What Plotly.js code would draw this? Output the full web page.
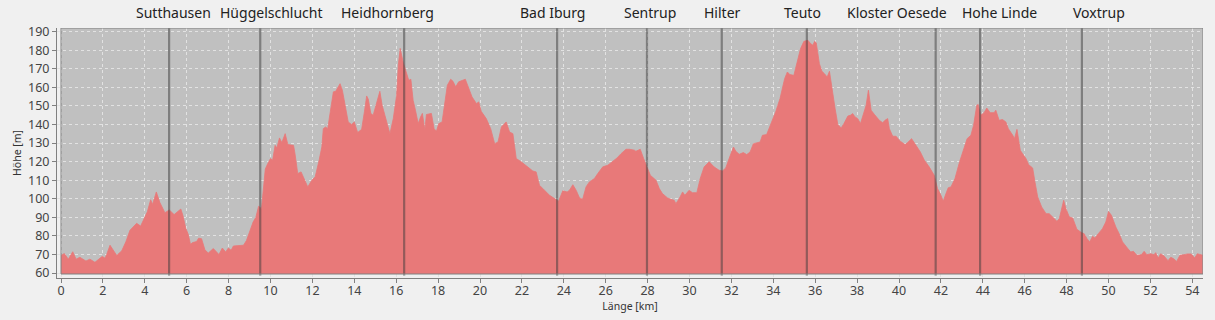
<!DOCTYPE html>
<html>
<head>
<meta charset="utf-8">
<script src="https://cdn.plot.ly/plotly-3.0.1.min.js"></script>
<style>
  html, body { margin: 0; padding: 0; background: #f0f0f0; }
  #chart { width: 1215px; height: 320px; }
</style>
</head>
<body>
<div id="chart"></div>
<script>
// ---- data ----
const distanceKm = [
  0.00,0.16,0.35,0.56,0.72,0.90,1.19,1.38,1.62,1.86,1.97,2.10,2.18,2.34,2.50,2.66,2.90,3.10,3.29,3.61,
  3.80,3.97,4.12,4.28,4.37,4.55,4.72,4.96,5.17,5.40,5.55,5.72,5.82,5.96,6.07,6.18,6.28,6.47,6.57,6.71,
  6.87,7.03,7.27,7.54,7.70,7.86,7.99,8.12,8.23,8.71,8.85,9.02,9.17,9.30,9.43,9.57,9.75,9.87,10.00,10.10,
  10.22,10.30,10.43,10.54,10.70,10.83,11.10,11.17,11.30,11.46,11.57,11.78,11.97,12.13,12.32,12.45,12.52,12.63,12.73,12.84,
  13.00,13.11,13.32,13.43,13.56,13.71,13.87,14.00,14.16,14.35,14.48,14.59,14.67,14.79,14.90,15.06,15.22,15.33,15.49,15.70,
  15.86,16.02,16.10,16.19,16.33,16.49,16.60,16.70,16.81,16.92,17.05,17.16,17.25,17.37,17.44,17.68,17.81,17.92,18.03,18.19,
  18.32,18.44,18.60,18.71,18.84,18.98,19.30,19.43,19.62,19.83,19.94,20.06,20.30,20.51,20.70,20.86,21.02,21.25,21.41,21.57,
  21.73,21.97,22.13,22.29,22.52,22.68,22.84,23.08,23.32,23.56,23.75,23.95,24.16,24.27,24.43,24.59,24.75,24.90,25.06,25.22,
  25.46,25.62,25.86,26.10,26.33,26.54,26.73,26.97,27.13,27.37,27.44,27.65,27.81,27.97,28.13,28.40,28.56,28.71,28.95,29.11,
  29.27,29.35,29.51,29.67,29.78,29.98,30.14,30.35,30.51,30.70,30.94,31.17,31.41,31.57,31.73,31.89,32.10,32.21,32.37,32.57,
  32.73,32.89,33.05,33.37,33.48,33.68,33.87,34.11,34.32,34.54,34.67,34.79,34.98,35.14,35.30,35.46,35.65,35.78,35.89,35.97,
  36.05,36.20,36.32,36.44,36.57,36.68,36.84,36.95,37.08,37.24,37.37,37.56,37.68,37.79,37.90,38.03,38.16,38.32,38.43,38.54,
  38.67,38.83,39.06,39.22,39.33,39.46,39.54,39.70,39.86,40.06,40.29,40.41,40.60,40.76,41.02,41.21,41.44,41.68,41.84,42.00,
  42.11,42.24,42.35,42.48,42.67,42.89,43.10,43.25,43.43,43.56,43.71,43.78,43.90,44.06,44.19,44.35,44.54,44.62,44.78,44.94,
  45.10,45.22,45.43,45.51,45.63,45.79,45.90,46.06,46.19,46.38,46.49,46.62,46.81,47.02,47.17,47.38,47.54,47.65,47.76,47.86,
  47.97,48.13,48.29,48.49,48.71,48.84,48.97,49.10,49.24,49.35,49.51,49.71,49.87,50.00,50.14,50.35,50.51,50.67,50.90,51.06,
  51.19,51.35,51.57,51.70,51.83,52.02,52.17,52.25,52.37,52.49,52.65,52.84,52.97,53.10,53.25,53.41,53.60,53.76,53.95,54.11,
  54.24,54.43,54.50
];
const elevationM = [
  69.5,70.5,67.5,71.5,67.5,68.5,66.5,67.5,65.8,68,69,68,70,75,72.5,69.5,72,77,83,86.8,
  85.3,89.3,93,99.5,97,103.7,98,92.5,94,91.5,93,94.5,91,84,81,75.5,76.4,77,78.8,78.5,
  72.5,70.8,73.2,70,73.5,71.4,73.5,72.3,74.6,75,77.5,83,87.5,90,96,94.7,116,119,121.7,120.8,
  128.8,127.4,132.8,130.3,135.1,129.2,128.8,124.3,113.6,114.5,111.8,106.4,110,111.8,120.8,128,137.8,138.7,137.8,146.8,
  157.6,157.9,162,158.5,150.4,141.4,140,141.4,135.7,137.4,146.8,155.4,153.6,145.9,145,151.3,157.9,150.4,143.2,135.1,
  143.2,155.8,171.9,181,173.7,167.4,163.8,164.4,153,147.7,140.5,144,146,137,145.4,146,137.8,136.4,140.5,141.4,
  150.4,161.1,164.4,163.3,160.3,163,164.4,160.3,154.9,151.3,152.2,147.1,143.2,137.8,129.7,130.6,138.7,141.4,136,135.1,
  121.7,119.9,118.4,117.2,115,114.5,107.3,104.6,101.9,100.1,98.7,104.3,103.7,104.6,107.6,104.6,100.5,99.8,106.4,109.1,
  110.9,113.6,117.2,118.1,120.2,122,124.3,126.7,126.7,126.2,125.6,126.7,121.7,117.2,112.7,110,105.5,102.8,100.5,99.8,
  99.2,97.4,100.1,103.7,101.9,104.6,103.3,103.3,110.9,117.2,119.9,117.2,115.4,115,116.6,121.7,127.9,125.6,124,124.9,
  123.8,125.2,129.7,130.6,134.2,134.6,139.6,146.8,154,164.7,168.3,166.9,166.5,173.7,180.9,184.8,185.4,183.6,182.7,184.8,
  184,172.8,168.7,167.4,165.6,168.7,155.8,148.6,140,138.2,140.5,144.6,145,145.9,144.1,143.2,140.5,145.9,150.4,158.5,
  147.7,145.4,142.3,141,142.3,143.2,137.8,133.7,133.7,131,129.2,130.3,132.4,129.7,125.2,120.8,117.2,112.7,105.5,101.9,
  98.7,102.8,106,106.4,110.9,119.9,127,132.4,134.2,139.6,150.4,150.8,145,146.4,148.9,146.4,146.4,147.7,142.3,142.7,
  141.4,137.8,134.2,132.4,137.4,126.1,124.3,121.7,118.4,116.6,109.1,101,95.6,92,92,89.7,87.9,89.3,94.7,99.2,
  94.7,90.2,89.7,83.6,81.8,81.2,78.6,76.8,79.8,78.9,81.2,83.9,87.5,93.2,91.1,84.8,81.2,76.8,73.5,71.4,
  71.7,69.6,69.9,71.7,69.9,70.4,69.9,71,68.1,70.4,69.2,66.7,68.5,67.8,66.3,69.6,69.9,70.3,70.3,68.1,
  70.4,69.6,69.6
];
const placeNames = ["Sutthausen","Hüggelschlucht","Heidhornberg","Bad Iburg","Sentrup","Hilter","Teuto","Kloster Oesede","Hohe Linde","Voxtrup"];
const placeKm    = [5.16, 9.51, 16.38, 23.68, 27.97, 31.54, 35.60, 41.75, 43.87, 48.73];
const xTickVals  = [0,2,4,6,8,10,12,14,16,18,20,22,24,26,28,30,32,34,36,38,40,42,44,46,48,50,52,54];
const yTickVals  = [60,70,80,90,100,110,120,130,140,150,160,170,180,190];

// ---- layout config (positions / styles) ----
const X_MIN = 0, X_MAX = 54.51;
const Y_MIN = 59.5, Y_MAX = 192;
const AXIS_GAP_PX = 4;            // axis lines sit a few px outside the plot box
const PLOT_W = 1142, PLOT_H = 246; // inner data box in px
const labelShiftPx = [4, 11, -17, -5, 3, 1, -4, -39, 19, 17];

const xPad = AXIS_GAP_PX * (X_MAX - X_MIN) / PLOT_W;
const yPad = AXIS_GAP_PX * (Y_MAX - Y_MIN) / PLOT_H;

const font = '"Noto Sans", "Open Sans", sans-serif';

const traces = [
  { // baseline for fill
    x: [distanceKm[0], distanceKm[distanceKm.length-1]],
    y: [Y_MIN, Y_MIN],
    mode: 'lines', line: {width: 0, color: 'rgba(0,0,0,0)'},
    hoverinfo: 'skip', showlegend: false
  },
  {
    x: distanceKm, y: elevationM,
    mode: 'lines', fill: 'tonexty',
    fillcolor: 'rgb(232,121,121)',
    line: {width: 0.8, color: 'rgb(232,121,121)'},
    showlegend: false
  }
];

const shapes = [
  { type: 'rect', layer: 'below', xref: 'x', yref: 'y',
    x0: X_MIN, x1: X_MAX, y0: Y_MIN, y1: Y_MAX,
    fillcolor: '#c0c0c0', line: {width: 0} }
];
placeKm.forEach(k => shapes.push({
  type: 'line', layer: 'above', xref: 'x', yref: 'y',
  x0: k, x1: k, y0: Y_MIN - yPad*0.4, y1: Y_MAX,
  line: {color: 'rgba(60,60,60,0.5)', width: 2.2}
}));
shapes.push({ type: 'rect', layer: 'above', xref: 'x', yref: 'y',
  x0: X_MIN, x1: X_MAX, y0: Y_MIN, y1: Y_MAX,
  fillcolor: 'rgba(0,0,0,0)', line: {width: 1, color: '#808080'} });

const annotations = placeNames.map((n, i) => ({
  text: n, x: placeKm[i], xref: 'x', y: 1 + 15/250, yref: 'paper',
  xanchor: 'center', yanchor: 'middle', showarrow: false,
  xshift: labelShiftPx[i],
  font: {family: font, size: 14, color: '#222'}
}));

const layout = {
  width: 1215, height: 320,
  margin: {l: 57, r: 12, t: 28, b: 42, pad: 0},
  paper_bgcolor: '#f0f0f0', plot_bgcolor: '#f0f0f0',
  showlegend: false,
  xaxis: {
    range: [X_MIN - xPad, X_MAX],
    tickvals: xTickVals, ticktext: xTickVals.map(String),
    ticks: 'outside', ticklen: 4, tickcolor: '#808080', tickwidth: 1,
    ticklabelstandoff: -3,
    showline: true, linecolor: '#808080', linewidth: 1,
    showgrid: true, gridcolor: '#e2e2e2', gridwidth: 1, griddash: '3px,3px',
    zeroline: false,
    tickfont: {family: font, size: 12.5, color: '#444'},
    title: {text: 'Länge [km]', font: {family: font, size: 10.5, color: '#333'}, standoff: 2}
  },
  yaxis: {
    range: [Y_MIN - yPad, Y_MAX],
    tickvals: yTickVals, ticktext: yTickVals.map(String),
    ticks: 'outside', ticklen: 4, tickcolor: '#808080', tickwidth: 1,
    showline: true, linecolor: '#808080', linewidth: 1,
    showgrid: true, gridcolor: '#e2e2e2', gridwidth: 1, griddash: '3px,3px',
    zeroline: false,
    tickfont: {family: font, size: 12.5, color: '#444'},
    title: {text: 'Höhe [m]', font: {family: font, size: 10.5, color: '#333'}, standoff: 4}
  },
  shapes: shapes,
  annotations: annotations
};

Plotly.newPlot('chart', traces, layout, {staticPlot: true, displayModeBar: false});
</script>
</body>
</html>
